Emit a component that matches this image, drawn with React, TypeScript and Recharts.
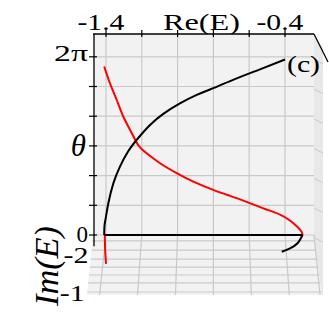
import React from 'react';
import { ComposedChart, Line, XAxis, YAxis, ReferenceLine, ReferenceArea, ReferenceDot, Customized } from 'recharts';

const PI = Math.PI;

// top axis: Re(E)
const reTicks = [-1.4, -1.2, -1.0, -0.8, -0.6, -0.4];
const reLabels = ['-1.4', '', '', '', '', '-0.4'];

// vertical axis: theta
const thetaTicks = [0, PI / 3, (2 * PI) / 3, PI, (4 * PI) / 3, (5 * PI) / 3, 2 * PI];
const thetaLabels = ['0', '', '', 'θ', '', '', '2π'];

// floor (Im(E) depth, drawn below theta = 0)
const imTicks = [-0.705, -2.06];
const imLabels = ['-2', '-1'];
const floorLevels = [-0.21, -0.53, -0.85, -1.13, -1.41, -1.69, -2.01];

// red branch
const redRe = [-1.41, -1.378, -1.34, -1.303, -1.256, -1.22, -1.173, -1.098, -1.005, -0.912, -0.801, -0.707, -0.614, -0.521, -0.428, -0.372, -0.33, -0.307, -0.302];
const redTheta = [5.94, 5.35, 4.76, 4.17, 3.59, 3.17, 2.88, 2.53, 2.18, 1.88, 1.59, 1.38, 1.17, 0.94, 0.72, 0.51, 0.28, 0.11, 0];
const redBaseRe = [-0.302, -1.407, -1.405, -1.4];
const redBaseTheta = [0, 0, -0.5, -1.02];

// black branch
const blackRe = [-1.41, -1.408, -1.4, -1.387, -1.359, -1.322, -1.275, -1.22, -1.154, -1.08, -0.987, -0.893, -0.819, -0.69, -0.54, -0.4];
const blackTheta = [0, 0.35, 0.65, 1.12, 1.82, 2.41, 2.96, 3.42, 3.88, 4.27, 4.64, 4.94, 5.13, 5.47, 5.84, 6.19];
const blackBaseRe = [-1.41, -0.302];
const blackBaseTheta = [0, 0];
const blackTailRe = [-0.302, -0.33, -0.372, -0.418];
const blackTailTheta = [0, -0.29, -0.47, -0.59];

// label at the end of the black branch
const panelTag = { re: -0.4, th: 6.19, text: '(c)' };

const X_MIN = -1.4726;
const X_MAX = -0.1877;
const BACK_RIGHT = -0.238;
const Y_MIN = -2.151;
const Y_MAX = 7.087;
const FLOOR = -2.116;
const PX = 1 / 179; // one pixel in Re units
const FONT = "'Liberation Serif', 'DejaVu Serif', serif";

const zip = (xs: number[], ys: number[]) => xs.map((re, i) => ({ re, th: ys[i] }));

const redMain = zip(redRe, redTheta);
const redBase = zip(redBaseRe, redBaseTheta);
const blackMain = zip(blackRe, blackTheta);
const blackBase = zip(blackBaseRe, blackBaseTheta);
const blackTail = zip(blackTailRe, blackTailTheta);

const near = (a: number, b: number) => Math.abs(a - b) < 1e-6;

const ReTick = (props: any) => {
  const { x, payload } = props;
  const i = reTicks.findIndex(t => near(t, payload.value));
  const lbl = i >= 0 ? reLabels[i] : '';
  return (
    <g>
      <line x1={x} x2={x} y1={30} y2={37} stroke="#000" strokeWidth={1.2} />
      {lbl && (
        <text x={x - 5} y={30} textAnchor="middle" fontFamily={FONT} fontSize={23} fill="#000" textLength={47} lengthAdjust="spacingAndGlyphs">
          {lbl}
        </text>
      )}
    </g>
  );
};

const ThetaTick = (props: any) => {
  const { y, payload } = props;
  const v = payload.value;
  const im = imTicks.findIndex(t => near(t, v));
  if (im >= 0) {
    const right = 93 - (y - 235) * 0.1 - 2.5;
    return (
      <text x={right} y={y + 8} textAnchor="end" fontFamily={FONT} fontSize={23} fill="#000" textLength={25} lengthAdjust="spacingAndGlyphs">
        {imLabels[im]}
      </text>
    );
  }
  const i = thetaTicks.findIndex(t => near(t, v));
  const lbl = i >= 0 ? thetaLabels[i] : '';
  return (
    <g>
      <line x1={89} x2={97} y1={y} y2={y} stroke="#000" strokeWidth={1.2} />
      {lbl === 'θ' && (
        <text x={86} y={y + 10} textAnchor="end" fontFamily={FONT} fontStyle="italic" fontSize={31} fill="#000">
          θ
        </text>
      )}
      {lbl === '2π' && (
        <text x={88} y={y + 4} textAnchor="end" fontFamily={FONT} fontSize={24} fill="#000" textLength={34} lengthAdjust="spacingAndGlyphs">
          2π
        </text>
      )}
      {lbl === '0' && (
        <text x={88} y={y + 7} textAnchor="end" fontFamily={FONT} fontSize={23} fill="#000">
          0
        </text>
      )}
    </g>
  );
};

const Texts = () => (
  <g fontFamily={FONT} fill="#000">
    <text x={163} y={30} fontSize={24} textLength={77} lengthAdjust="spacingAndGlyphs">Re(E)</text>
    <text x={0} y={0} transform="translate(58,266) rotate(-90)" textAnchor="middle" fontSize={34} fontStyle="italic" textLength={80} lengthAdjust="spacingAndGlyphs">
      Im(E)
    </text>
  </g>
);

const TagShape = (p: any) => (
  <text x={p.cx + 2} y={p.cy + 13} fontFamily={FONT} fontSize={24} fill="#000" textLength={33} lengthAdjust="spacingAndGlyphs">
    {panelTag.text}
  </text>
);

const floorShape = (p: any) => {
  const { x, y, width: w, height: h } = p;
  return <path d={`M${x},${y} L${x + w},${y} L${x + w + 8},${y + h} L${x - 6},${y + h} Z`} fill="#f2f2f2" />;
};

const sideShape = (p: any) => {
  const { x, y, width: w, height: h } = p;
  return <path d={`M${x},${y} L${x + w},${y + 14} L${x + w},${y + h} L${x},${y + h} Z`} fill="#e8e8e8" />;
};

const GRID = '#c9c9c9';
const CENTER = -0.8;

export default function App() {
  return (
    <div style={{ position: 'absolute', left: 0, top: 0, width: 329, height: 314, background: '#fff' }}>
      <ComposedChart width={329} height={314} margin={{ top: 0, right: 6, bottom: 18, left: 0 }}>
        <XAxis
          type="number"
          dataKey="re"
          orientation="top"
          domain={[X_MIN, X_MAX]}
          allowDataOverflow
          ticks={reTicks}
          interval={0}
          height={34}
          axisLine={false}
          tickLine={false}
          tick={<ReTick />}
        />
        <YAxis
          type="number"
          dataKey="th"
          domain={[Y_MIN, Y_MAX]}
          allowDataOverflow
          ticks={[...imTicks, ...thetaTicks]}
          interval={0}
          width={93}
          axisLine={false}
          tickLine={false}
          tick={<ThetaTick />}
        />

        <ReferenceArea x1={BACK_RIGHT} x2={X_MAX} y1={FLOOR} y2={Y_MAX} shape={sideShape} ifOverflow="visible" />
        <ReferenceArea x1={X_MIN} x2={BACK_RIGHT} y1={FLOOR} y2={0} shape={floorShape} ifOverflow="visible" />
        <ReferenceArea x1={X_MIN} x2={BACK_RIGHT} y1={0} y2={Y_MAX} fill="#f2f2f2" fillOpacity={1} stroke="none" ifOverflow="visible" />

        {thetaTicks.map(t => (
          <ReferenceLine key={`sh${t}`} segment={[{ x: BACK_RIGHT, y: t - 0.1 }, { x: X_MAX, y: t - 0.25 }]} stroke={GRID} strokeWidth={1} ifOverflow="visible" />
        ))}
        {floorLevels.map(l => (
          <ReferenceLine
            key={`fl${l}`}
            segment={[
              { x: X_MIN - (l / FLOOR) * 6 * PX, y: l },
              { x: BACK_RIGHT + (l / FLOOR) * 8 * PX, y: l },
            ]}
            stroke={GRID}
            strokeWidth={1.2}
            ifOverflow="visible"
          />
        ))}
        {[...reTicks, BACK_RIGHT].map(t => (
          <ReferenceLine
            key={`fv${t}`}
            segment={[{ x: t, y: 0 }, { x: CENTER + (t - CENTER) * 1.06, y: FLOOR }]}
            stroke={GRID}
            strokeWidth={1.2}
            ifOverflow="visible"
          />
        ))}
        {reTicks.map(t => (
          <ReferenceLine key={`v${t}`} segment={[{ x: t, y: 0 }, { x: t, y: Y_MAX }]} stroke={GRID} strokeWidth={1.2} ifOverflow="visible" />
        ))}
        {thetaTicks.map(t => (
          <ReferenceLine key={`h${t}`} segment={[{ x: X_MIN, y: t }, { x: BACK_RIGHT, y: t }]} stroke={GRID} strokeWidth={1.2} ifOverflow="visible" />
        ))}

        <ReferenceLine segment={[{ x: X_MIN, y: Y_MAX }, { x: BACK_RIGHT, y: Y_MAX }]} stroke="#000" strokeWidth={1.3} ifOverflow="visible" />
        <ReferenceLine segment={[{ x: BACK_RIGHT, y: Y_MAX }, { x: X_MAX + 5 * PX, y: 6.1 }]} stroke="#000" strokeWidth={1.3} ifOverflow="visible" />
        <ReferenceLine segment={[{ x: X_MIN + 1 * PX, y: Y_MAX }, { x: X_MIN + 1 * PX, y: -0.4 }]} stroke="#000" strokeWidth={1.3} ifOverflow="visible" />

        <Line data={redMain} dataKey="th" type="natural" stroke="#ff0000" strokeWidth={2} dot={false} isAnimationActive={false} />
        <Line data={redBase} dataKey="th" type="linear" stroke="#ff0000" strokeWidth={2} dot={false} isAnimationActive={false} />
        <Line data={blackMain} dataKey="th" type="natural" stroke="#000" strokeWidth={2} dot={false} isAnimationActive={false} />
        <Line data={blackBase} dataKey="th" type="linear" stroke="#000" strokeWidth={2} dot={false} isAnimationActive={false} />
        <Line data={blackTail} dataKey="th" type="natural" stroke="#000" strokeWidth={2} dot={false} isAnimationActive={false} />

        <ReferenceDot x={panelTag.re} y={panelTag.th} r={0} shape={TagShape} ifOverflow="visible" />
        <Customized component={Texts} />
      </ComposedChart>
    </div>
  );
}
